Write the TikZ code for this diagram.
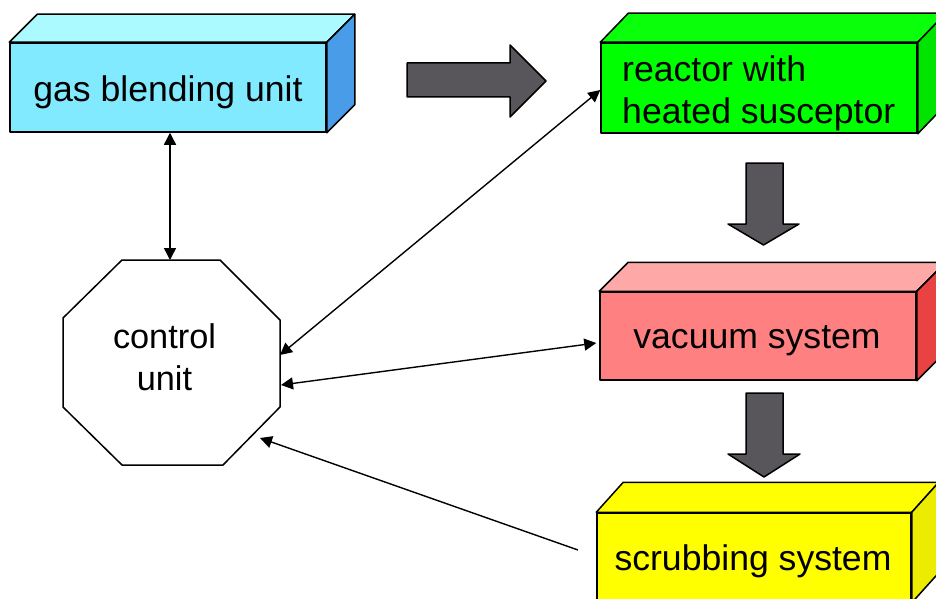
\documentclass[tikz,border=0pt]{standalone}
\usepackage{fontspec}
\setmainfont{Liberation Sans}
\usetikzlibrary{arrows.meta}

\definecolor{gasFront}{RGB}{130,234,255}
\definecolor{gasTop}{RGB}{170,250,255}
\definecolor{gasSide}{RGB}{72,156,232}
\definecolor{recFront}{RGB}{0,255,0}
\definecolor{recTop}{RGB}{10,255,10}
\definecolor{recSide}{RGB}{0,228,0}
\definecolor{vacFront}{RGB}{255,128,128}
\definecolor{vacTop}{RGB}{255,168,168}
\definecolor{vacSide}{RGB}{232,66,66}
\definecolor{scrFront}{RGB}{255,255,0}
\definecolor{scrTop}{RGB}{255,255,0}
\definecolor{scrSide}{RGB}{236,236,0}
\definecolor{flowGray}{RGB}{88,86,90}

% top and right faces of a box whose front face is the node #1
\newcommand\cubesides[5]{%
  \draw[cubeline, fill=#4] (#1.north west) -- ([shift={(#2,-#3)}]#1.north west)
     -- ([shift={(#2,-#3)}]#1.north east) -- (#1.north east) -- cycle;
  \draw[cubeline, fill=#5] (#1.north east) -- ([shift={(#2,-#3)}]#1.north east)
     -- ([shift={(#2,-#3)}]#1.south east) -- (#1.south east) -- cycle;}

\begin{document}
\begin{tikzpicture}[x=1pt, y=-1pt,
  cubeline/.style={draw=black, line width=1.5pt, line join=round},
  front/.style={cubeline, rectangle, inner sep=0pt, minimum height=89pt, minimum width=316pt},
  lbl/.style={font=\fontsize{35.6}{42}\selectfont, inner sep=0pt},
  flow/.style={draw=black, line width=1.5pt, fill=flowGray, line join=round},
  link/.style={line width=1.4pt, {Triangle[length=12pt,width=12pt]}-{Triangle[length=12pt,width=12pt]}},
  linkin/.style={line width=1.4pt, -{Triangle[length=12pt,width=12pt]}},
  octline/.style={draw=black, line width=1.5pt, line join=round}]

\clip (0,0) rectangle (936,599);
\fill[white] (0,0) rectangle (936,599);

% process boxes (front faces)
\node[front, fill=gasFront] (gas) at (168,87.5) {};
\node[front, fill=recFront, minimum height=90pt] (rec) at (759,88) {};
\node[front, fill=vacFront, minimum height=88pt] (vac) at (758,336) {};
\node[front, fill=scrFront, minimum width=314pt] (scr) at (754,557.5) {};

\cubesides{gas}{28}{28}{gasTop}{gasSide}
\cubesides{rec}{28}{29}{recTop}{recSide}
\cubesides{vac}{29}{29}{vacTop}{vacSide}
\cubesides{scr}{27}{30}{scrTop}{scrSide}

% box captions
\node[lbl, anchor=base] (gas-t) at (168,102) {gas blending unit};
\node[lbl, anchor=base west] (rec-t1) at (622,82) {reactor with};
\node[lbl, anchor=base west] (rec-t2) at (622,124) {heated susceptor};
\node[lbl, anchor=base] (vac-t) at (757,348) {vacuum system};
\node[lbl, anchor=base] (scr-t) at (753,570) {scrubbing system};

% control unit octagon
\coordinate (o1) at (122,260);
\coordinate (o2) at (220,260);
\coordinate (o3) at (280,320);
\coordinate (o4) at (280,407);
\coordinate (o5) at (223,465);
\coordinate (o6) at (122,465);
\coordinate (o7) at (63,407);
\coordinate (o8) at (63,318);
\draw[octline, fill=white] (o1) -- (o2) -- (o3) -- (o4) -- (o5) -- (o6) -- (o7) -- (o8) -- cycle;
\node[lbl, font=\fontsize{34.3}{42}\selectfont, anchor=base] (cu1) at (164.5,348) {control};
\node[lbl, font=\fontsize{34.3}{42}\selectfont, anchor=base] (cu2) at (164.5,390) {unit};

% connector end points on the control unit
\coordinate (cu-top) at (170,260);
\coordinate (cu-r1) at (280,355);
\coordinate (cu-r2) at (281,385);
\coordinate (cu-r3) at (260,438);
\coordinate (scr-out) at (578,550);

% signal lines
\draw[link] ([xshift=2pt]gas.south) -- (cu-top);
\draw[link] ([yshift=-2pt]rec.west) -- (cu-r1);
\draw[link] ([xshift=-3pt,yshift=-7pt]vac.west) -- (cu-r2);
\draw[linkin] (scr-out) -- (cu-r3);

% material flow arrows
\draw[flow] (407,63) -- (510,63) -- (510,45) -- (546,81) -- (510,117) -- (510,97) -- (407,97) -- cycle;
\draw[flow] (746,163) -- (783,163) -- (783,224) -- (799,224) -- (763.5,245) -- (728,224) -- (746,224) -- cycle;
\draw[flow] (746,393) -- (783,393) -- (783,454) -- (800,454) -- (764,477) -- (728,454) -- (746,454) -- cycle;
\end{tikzpicture}
\end{document}
